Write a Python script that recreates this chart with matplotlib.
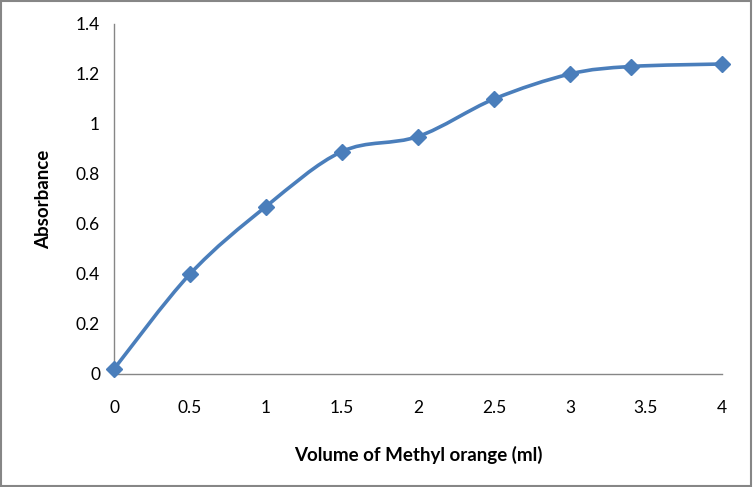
import matplotlib
matplotlib.use("Agg")
import matplotlib.pyplot as plt
from matplotlib.path import Path
from matplotlib.patches import PathPatch, Rectangle

volume = [0, 0.5, 1, 1.5, 2, 2.5, 3, 3.4, 4]
absorbance = [0.02, 0.40, 0.67, 0.89, 0.95, 1.10, 1.20, 1.23, 1.24]
x_ticks = [0, 0.5, 1, 1.5, 2, 2.5, 3, 3.5, 4]
y_ticks = [0, 0.2, 0.4, 0.6, 0.8, 1, 1.2, 1.4]

blue = "#4a7ebb"
font = ["Lato", "DejaVu Sans"]


def smooth_path(xs, ys):
    # Excel-style smoothed line: cubic Bezier segments with Catmull-Rom control points
    pts = list(zip(xs, ys))
    n = len(pts)
    verts = [pts[0]]
    codes = [Path.MOVETO]
    for i in range(n - 1):
        p0 = pts[i - 1] if i > 0 else pts[i]
        p1 = pts[i]
        p2 = pts[i + 1]
        p3 = pts[i + 2] if i + 2 < n else pts[i + 1]
        c1 = (p1[0] + (p2[0] - p0[0]) / 6, p1[1] + (p2[1] - p0[1]) / 6)
        c2 = (p2[0] - (p3[0] - p1[0]) / 6, p2[1] - (p3[1] - p1[1]) / 6)
        verts += [c1, c2, p2]
        codes += [Path.CURVE4] * 3
    return Path(verts, codes)


fig = plt.figure(figsize=(7.53, 4.87), dpi=100)
ax = fig.add_axes([114 / 753, 1 - 374 / 487, 608 / 753, 350 / 487])

ax.add_patch(PathPatch(smooth_path(volume, absorbance), facecolor="none",
                       edgecolor=blue, linewidth=2.6, zorder=2))
ax.plot(volume, absorbance, linestyle="none", marker="D", markersize=8,
        color=blue, zorder=3, clip_on=False)

ax.set_xlim(0, 4)
ax.set_ylim(0, 1.4)
ax.set_xticks(x_ticks)
ax.set_yticks(y_ticks)
ax.set_xticklabels([f"{t:g}" for t in x_ticks], family=font, fontsize=12.5)
ax.set_yticklabels([f"{t:g}" for t in y_ticks], family=font, fontsize=12.5)
ax.tick_params(length=0)
ax.tick_params(axis="x", pad=19)
ax.tick_params(axis="y", pad=10)

for side in ["top", "right"]:
    ax.spines[side].set_visible(False)
for side in ["left", "bottom"]:
    ax.spines[side].set_color("#868686")
    ax.spines[side].set_linewidth(1)

ax.set_xlabel("Volume of Methyl orange (ml)", family=font, fontsize=13.5,
              fontweight="bold", labelpad=21)
ax.set_ylabel("Absorbance", family=font, fontsize=13.5, fontweight="bold",
              labelpad=17)

fig.patches.append(Rectangle((0.001, 0.002), 0.997, 0.996, transform=fig.transFigure,
                             fill=False, edgecolor="#868686", linewidth=1.5))

fig.savefig("out.png", dpi=100)
